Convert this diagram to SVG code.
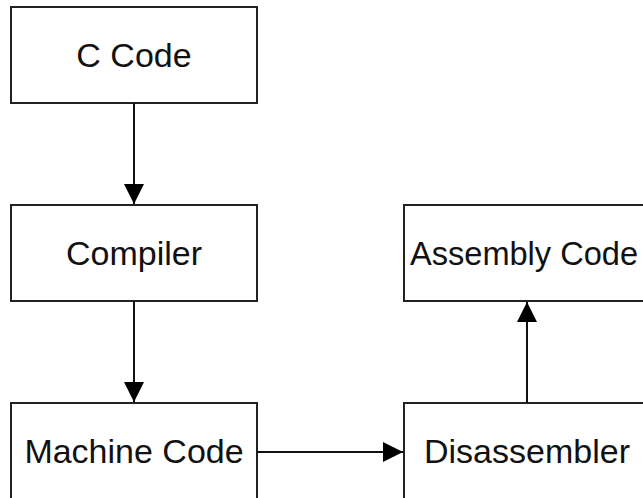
<svg xmlns="http://www.w3.org/2000/svg" width="643" height="498" viewBox="0 0 643 498">
<defs>
<style>
.box{fill:#fff;stroke:#222;stroke-width:2}
.lbl{font-family:"Liberation Sans",Arial,sans-serif;font-size:34px;fill:#111;text-anchor:middle}
.edge{stroke:#111;stroke-width:2;fill:none;marker-end:url(#ah)}
</style>
<marker id="ah" viewBox="0 0 20 20" refX="20" refY="10" markerWidth="20" markerHeight="20" markerUnits="userSpaceOnUse" orient="auto">
<path d="M0,0 L20,10 L0,20 Z" fill="#000"/>
</marker>
</defs>
<rect width="643" height="498" fill="#fff"/>
<g id="ccode"><rect class="box" x="11" y="7" width="246" height="96"/><text class="lbl" x="134" y="66.5">C Code</text></g>
<g id="compiler"><rect class="box" x="11" y="205" width="246" height="96"/><text class="lbl" x="134" y="264.5">Compiler</text></g>
<g id="machine"><rect class="box" x="11" y="403" width="246" height="96"/><text class="lbl" x="134" y="462.5">Machine Code</text></g>
<g id="assembly"><rect class="box" x="404" y="205" width="246" height="96"/><text class="lbl" x="410" y="264.5" style="text-anchor:start" textLength="228" lengthAdjust="spacingAndGlyphs">Assembly Code</text></g>
<g id="disasm"><rect class="box" x="404" y="403" width="246" height="96"/><text class="lbl" x="527" y="462.5">Disassembler</text></g>
<g id="connectors">
<line class="edge" x1="134" y1="103" x2="134" y2="204"/>
<line class="edge" x1="134" y1="301" x2="134" y2="402"/>
<line class="edge" x1="257" y1="452" x2="403" y2="452"/>
<line class="edge" x1="527" y1="403" x2="527" y2="302"/>
</g>
</svg>
